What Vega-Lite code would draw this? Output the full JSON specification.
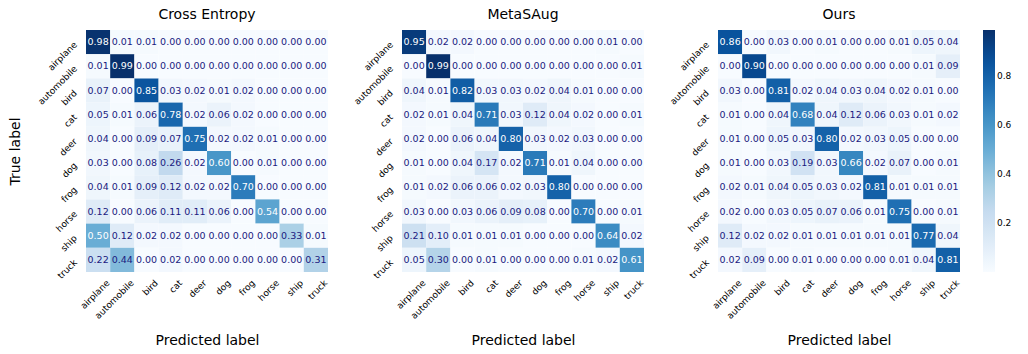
{
  "$schema": "https://vega.github.io/schema/vega-lite/v6.json",
  "padding": {"left": 8, "top": 8, "right": 5, "bottom": 5},
  "bounds": "flush",
  "spacing": 74,
  "config": {"view": {"stroke": null}, "font": "DejaVu Sans", "axis": {"labelFont": "DejaVu Sans", "titleFont": "DejaVu Sans"}},
  "datasets": {
    "ce": [
      {"t":"airplane","p":"airplane","v":0.98},{"t":"airplane","p":"automobile","v":0.01},{"t":"airplane","p":"bird","v":0.01},{"t":"airplane","p":"cat","v":0.0},{"t":"airplane","p":"deer","v":0.0},{"t":"airplane","p":"dog","v":0.0},{"t":"airplane","p":"frog","v":0.0},{"t":"airplane","p":"horse","v":0.0},{"t":"airplane","p":"ship","v":0.0},{"t":"airplane","p":"truck","v":0.0},
      {"t":"automobile","p":"airplane","v":0.01},{"t":"automobile","p":"automobile","v":0.99},{"t":"automobile","p":"bird","v":0.0},{"t":"automobile","p":"cat","v":0.0},{"t":"automobile","p":"deer","v":0.0},{"t":"automobile","p":"dog","v":0.0},{"t":"automobile","p":"frog","v":0.0},{"t":"automobile","p":"horse","v":0.0},{"t":"automobile","p":"ship","v":0.0},{"t":"automobile","p":"truck","v":0.0},
      {"t":"bird","p":"airplane","v":0.07},{"t":"bird","p":"automobile","v":0.0},{"t":"bird","p":"bird","v":0.85},{"t":"bird","p":"cat","v":0.03},{"t":"bird","p":"deer","v":0.02},{"t":"bird","p":"dog","v":0.01},{"t":"bird","p":"frog","v":0.02},{"t":"bird","p":"horse","v":0.0},{"t":"bird","p":"ship","v":0.0},{"t":"bird","p":"truck","v":0.0},
      {"t":"cat","p":"airplane","v":0.05},{"t":"cat","p":"automobile","v":0.01},{"t":"cat","p":"bird","v":0.06},{"t":"cat","p":"cat","v":0.78},{"t":"cat","p":"deer","v":0.02},{"t":"cat","p":"dog","v":0.06},{"t":"cat","p":"frog","v":0.02},{"t":"cat","p":"horse","v":0.0},{"t":"cat","p":"ship","v":0.0},{"t":"cat","p":"truck","v":0.0},
      {"t":"deer","p":"airplane","v":0.04},{"t":"deer","p":"automobile","v":0.0},{"t":"deer","p":"bird","v":0.09},{"t":"deer","p":"cat","v":0.07},{"t":"deer","p":"deer","v":0.75},{"t":"deer","p":"dog","v":0.02},{"t":"deer","p":"frog","v":0.02},{"t":"deer","p":"horse","v":0.01},{"t":"deer","p":"ship","v":0.0},{"t":"deer","p":"truck","v":0.0},
      {"t":"dog","p":"airplane","v":0.03},{"t":"dog","p":"automobile","v":0.0},{"t":"dog","p":"bird","v":0.08},{"t":"dog","p":"cat","v":0.26},{"t":"dog","p":"deer","v":0.02},{"t":"dog","p":"dog","v":0.60},{"t":"dog","p":"frog","v":0.0},{"t":"dog","p":"horse","v":0.01},{"t":"dog","p":"ship","v":0.0},{"t":"dog","p":"truck","v":0.0},
      {"t":"frog","p":"airplane","v":0.04},{"t":"frog","p":"automobile","v":0.01},{"t":"frog","p":"bird","v":0.09},{"t":"frog","p":"cat","v":0.12},{"t":"frog","p":"deer","v":0.02},{"t":"frog","p":"dog","v":0.02},{"t":"frog","p":"frog","v":0.70},{"t":"frog","p":"horse","v":0.0},{"t":"frog","p":"ship","v":0.0},{"t":"frog","p":"truck","v":0.0},
      {"t":"horse","p":"airplane","v":0.12},{"t":"horse","p":"automobile","v":0.0},{"t":"horse","p":"bird","v":0.06},{"t":"horse","p":"cat","v":0.11},{"t":"horse","p":"deer","v":0.11},{"t":"horse","p":"dog","v":0.06},{"t":"horse","p":"frog","v":0.0},{"t":"horse","p":"horse","v":0.54},{"t":"horse","p":"ship","v":0.0},{"t":"horse","p":"truck","v":0.0},
      {"t":"ship","p":"airplane","v":0.50},{"t":"ship","p":"automobile","v":0.12},{"t":"ship","p":"bird","v":0.02},{"t":"ship","p":"cat","v":0.02},{"t":"ship","p":"deer","v":0.0},{"t":"ship","p":"dog","v":0.0},{"t":"ship","p":"frog","v":0.0},{"t":"ship","p":"horse","v":0.0},{"t":"ship","p":"ship","v":0.33},{"t":"ship","p":"truck","v":0.01},
      {"t":"truck","p":"airplane","v":0.22},{"t":"truck","p":"automobile","v":0.44},{"t":"truck","p":"bird","v":0.0},{"t":"truck","p":"cat","v":0.02},{"t":"truck","p":"deer","v":0.0},{"t":"truck","p":"dog","v":0.0},{"t":"truck","p":"frog","v":0.0},{"t":"truck","p":"horse","v":0.0},{"t":"truck","p":"ship","v":0.0},{"t":"truck","p":"truck","v":0.31}
    ],
    "ms": [
      {"t":"airplane","p":"airplane","v":0.95},{"t":"airplane","p":"automobile","v":0.02},{"t":"airplane","p":"bird","v":0.02},{"t":"airplane","p":"cat","v":0.0},{"t":"airplane","p":"deer","v":0.0},{"t":"airplane","p":"dog","v":0.0},{"t":"airplane","p":"frog","v":0.0},{"t":"airplane","p":"horse","v":0.0},{"t":"airplane","p":"ship","v":0.01},{"t":"airplane","p":"truck","v":0.0},
      {"t":"automobile","p":"airplane","v":0.0},{"t":"automobile","p":"automobile","v":0.99},{"t":"automobile","p":"bird","v":0.0},{"t":"automobile","p":"cat","v":0.0},{"t":"automobile","p":"deer","v":0.0},{"t":"automobile","p":"dog","v":0.0},{"t":"automobile","p":"frog","v":0.0},{"t":"automobile","p":"horse","v":0.0},{"t":"automobile","p":"ship","v":0.0},{"t":"automobile","p":"truck","v":0.01},
      {"t":"bird","p":"airplane","v":0.04},{"t":"bird","p":"automobile","v":0.01},{"t":"bird","p":"bird","v":0.82},{"t":"bird","p":"cat","v":0.03},{"t":"bird","p":"deer","v":0.03},{"t":"bird","p":"dog","v":0.02},{"t":"bird","p":"frog","v":0.04},{"t":"bird","p":"horse","v":0.01},{"t":"bird","p":"ship","v":0.0},{"t":"bird","p":"truck","v":0.0},
      {"t":"cat","p":"airplane","v":0.02},{"t":"cat","p":"automobile","v":0.01},{"t":"cat","p":"bird","v":0.04},{"t":"cat","p":"cat","v":0.71},{"t":"cat","p":"deer","v":0.03},{"t":"cat","p":"dog","v":0.12},{"t":"cat","p":"frog","v":0.04},{"t":"cat","p":"horse","v":0.02},{"t":"cat","p":"ship","v":0.0},{"t":"cat","p":"truck","v":0.01},
      {"t":"deer","p":"airplane","v":0.02},{"t":"deer","p":"automobile","v":0.0},{"t":"deer","p":"bird","v":0.06},{"t":"deer","p":"cat","v":0.04},{"t":"deer","p":"deer","v":0.80},{"t":"deer","p":"dog","v":0.03},{"t":"deer","p":"frog","v":0.02},{"t":"deer","p":"horse","v":0.03},{"t":"deer","p":"ship","v":0.0},{"t":"deer","p":"truck","v":0.0},
      {"t":"dog","p":"airplane","v":0.01},{"t":"dog","p":"automobile","v":0.0},{"t":"dog","p":"bird","v":0.04},{"t":"dog","p":"cat","v":0.17},{"t":"dog","p":"deer","v":0.02},{"t":"dog","p":"dog","v":0.71},{"t":"dog","p":"frog","v":0.01},{"t":"dog","p":"horse","v":0.04},{"t":"dog","p":"ship","v":0.0},{"t":"dog","p":"truck","v":0.0},
      {"t":"frog","p":"airplane","v":0.01},{"t":"frog","p":"automobile","v":0.02},{"t":"frog","p":"bird","v":0.06},{"t":"frog","p":"cat","v":0.06},{"t":"frog","p":"deer","v":0.02},{"t":"frog","p":"dog","v":0.03},{"t":"frog","p":"frog","v":0.80},{"t":"frog","p":"horse","v":0.0},{"t":"frog","p":"ship","v":0.0},{"t":"frog","p":"truck","v":0.0},
      {"t":"horse","p":"airplane","v":0.03},{"t":"horse","p":"automobile","v":0.0},{"t":"horse","p":"bird","v":0.03},{"t":"horse","p":"cat","v":0.06},{"t":"horse","p":"deer","v":0.09},{"t":"horse","p":"dog","v":0.08},{"t":"horse","p":"frog","v":0.0},{"t":"horse","p":"horse","v":0.70},{"t":"horse","p":"ship","v":0.0},{"t":"horse","p":"truck","v":0.01},
      {"t":"ship","p":"airplane","v":0.21},{"t":"ship","p":"automobile","v":0.10},{"t":"ship","p":"bird","v":0.01},{"t":"ship","p":"cat","v":0.01},{"t":"ship","p":"deer","v":0.01},{"t":"ship","p":"dog","v":0.0},{"t":"ship","p":"frog","v":0.0},{"t":"ship","p":"horse","v":0.0},{"t":"ship","p":"ship","v":0.64},{"t":"ship","p":"truck","v":0.02},
      {"t":"truck","p":"airplane","v":0.05},{"t":"truck","p":"automobile","v":0.30},{"t":"truck","p":"bird","v":0.0},{"t":"truck","p":"cat","v":0.01},{"t":"truck","p":"deer","v":0.0},{"t":"truck","p":"dog","v":0.0},{"t":"truck","p":"frog","v":0.0},{"t":"truck","p":"horse","v":0.01},{"t":"truck","p":"ship","v":0.02},{"t":"truck","p":"truck","v":0.61}
    ],
    "ours": [
      {"t":"airplane","p":"airplane","v":0.86},{"t":"airplane","p":"automobile","v":0.0},{"t":"airplane","p":"bird","v":0.03},{"t":"airplane","p":"cat","v":0.0},{"t":"airplane","p":"deer","v":0.01},{"t":"airplane","p":"dog","v":0.0},{"t":"airplane","p":"frog","v":0.0},{"t":"airplane","p":"horse","v":0.01},{"t":"airplane","p":"ship","v":0.05},{"t":"airplane","p":"truck","v":0.04},
      {"t":"automobile","p":"airplane","v":0.0},{"t":"automobile","p":"automobile","v":0.90},{"t":"automobile","p":"bird","v":0.0},{"t":"automobile","p":"cat","v":0.0},{"t":"automobile","p":"deer","v":0.0},{"t":"automobile","p":"dog","v":0.0},{"t":"automobile","p":"frog","v":0.0},{"t":"automobile","p":"horse","v":0.0},{"t":"automobile","p":"ship","v":0.01},{"t":"automobile","p":"truck","v":0.09},
      {"t":"bird","p":"airplane","v":0.03},{"t":"bird","p":"automobile","v":0.0},{"t":"bird","p":"bird","v":0.81},{"t":"bird","p":"cat","v":0.02},{"t":"bird","p":"deer","v":0.04},{"t":"bird","p":"dog","v":0.03},{"t":"bird","p":"frog","v":0.04},{"t":"bird","p":"horse","v":0.02},{"t":"bird","p":"ship","v":0.01},{"t":"bird","p":"truck","v":0.0},
      {"t":"cat","p":"airplane","v":0.01},{"t":"cat","p":"automobile","v":0.0},{"t":"cat","p":"bird","v":0.04},{"t":"cat","p":"cat","v":0.68},{"t":"cat","p":"deer","v":0.04},{"t":"cat","p":"dog","v":0.12},{"t":"cat","p":"frog","v":0.06},{"t":"cat","p":"horse","v":0.03},{"t":"cat","p":"ship","v":0.01},{"t":"cat","p":"truck","v":0.02},
      {"t":"deer","p":"airplane","v":0.01},{"t":"deer","p":"automobile","v":0.0},{"t":"deer","p":"bird","v":0.05},{"t":"deer","p":"cat","v":0.03},{"t":"deer","p":"deer","v":0.80},{"t":"deer","p":"dog","v":0.02},{"t":"deer","p":"frog","v":0.03},{"t":"deer","p":"horse","v":0.05},{"t":"deer","p":"ship","v":0.0},{"t":"deer","p":"truck","v":0.0},
      {"t":"dog","p":"airplane","v":0.01},{"t":"dog","p":"automobile","v":0.0},{"t":"dog","p":"bird","v":0.03},{"t":"dog","p":"cat","v":0.19},{"t":"dog","p":"deer","v":0.03},{"t":"dog","p":"dog","v":0.66},{"t":"dog","p":"frog","v":0.02},{"t":"dog","p":"horse","v":0.07},{"t":"dog","p":"ship","v":0.0},{"t":"dog","p":"truck","v":0.01},
      {"t":"frog","p":"airplane","v":0.02},{"t":"frog","p":"automobile","v":0.01},{"t":"frog","p":"bird","v":0.04},{"t":"frog","p":"cat","v":0.05},{"t":"frog","p":"deer","v":0.03},{"t":"frog","p":"dog","v":0.02},{"t":"frog","p":"frog","v":0.81},{"t":"frog","p":"horse","v":0.01},{"t":"frog","p":"ship","v":0.01},{"t":"frog","p":"truck","v":0.01},
      {"t":"horse","p":"airplane","v":0.02},{"t":"horse","p":"automobile","v":0.0},{"t":"horse","p":"bird","v":0.03},{"t":"horse","p":"cat","v":0.05},{"t":"horse","p":"deer","v":0.07},{"t":"horse","p":"dog","v":0.06},{"t":"horse","p":"frog","v":0.01},{"t":"horse","p":"horse","v":0.75},{"t":"horse","p":"ship","v":0.0},{"t":"horse","p":"truck","v":0.01},
      {"t":"ship","p":"airplane","v":0.12},{"t":"ship","p":"automobile","v":0.02},{"t":"ship","p":"bird","v":0.02},{"t":"ship","p":"cat","v":0.01},{"t":"ship","p":"deer","v":0.01},{"t":"ship","p":"dog","v":0.01},{"t":"ship","p":"frog","v":0.01},{"t":"ship","p":"horse","v":0.01},{"t":"ship","p":"ship","v":0.77},{"t":"ship","p":"truck","v":0.04},
      {"t":"truck","p":"airplane","v":0.02},{"t":"truck","p":"automobile","v":0.09},{"t":"truck","p":"bird","v":0.0},{"t":"truck","p":"cat","v":0.01},{"t":"truck","p":"deer","v":0.0},{"t":"truck","p":"dog","v":0.0},{"t":"truck","p":"frog","v":0.0},{"t":"truck","p":"horse","v":0.01},{"t":"truck","p":"ship","v":0.04},{"t":"truck","p":"truck","v":0.81}
    ]
  },
  "resolve": {"scale": {"color": "shared"}, "legend": {"color": "shared"}},
  "hconcat": [
    {
      "width": 242, "height": 242,
      "data": {"name": "ce"},
      "title": {"text": "Cross Entropy", "fontSize": 14, "fontWeight": "normal", "font": "DejaVu Sans", "anchor": "middle", "offset": 8},
      "encoding": {
        "x": {"field": "p", "type": "nominal", "sort": ["airplane","automobile","bird","cat","deer","dog","frog","horse","ship","truck"], "scale": {"paddingInner": 0, "paddingOuter": 0}, "axis": {"title": "Predicted label", "titleFontSize": 14, "titleFontWeight": "normal", "titleY": 68, "titleBaseline": "middle", "labelAngle": -45, "labelAlign": "right", "labelBaseline": "middle", "labelFontSize": 9, "labelOffset": 10, "labelPadding": 9, "ticks": false, "domain": false, "labelColor": "black"}},
        "y": {"field": "t", "type": "nominal", "sort": ["airplane","automobile","bird","cat","deer","dog","frog","horse","ship","truck"], "scale": {"paddingInner": 0, "paddingOuter": 0}, "axis": {"title": "True label", "titleFontSize": 14, "titleFontWeight": "normal", "titleX": -71, "titleBaseline": "middle", "labelAngle": -45, "labelAlign": "right", "labelBaseline": "middle", "labelFontSize": 9, "labelPadding": 11, "labelOffset": 1, "ticks": false, "domain": false, "labelColor": "black"}}
      },
      "layer": [
        {"mark": {"type": "rect"}, "encoding": {"color": {"field": "v", "type": "quantitative", "scale": {"domain": [0, 0.99], "range": ["#f7fbff","#deebf7","#c6dbef","#9ecae1","#6baed6","#4292c6","#2171b5","#08519c","#08306b"], "interpolate": "rgb"}, "legend": {"title": null, "values": [0.2, 0.4, 0.6, 0.8], "gradientLength": 242, "gradientThickness": 12, "labelFontSize": 9, "labelFont": "DejaVu Sans", "labelColor": "black", "offset": 22, "gradientStrokeWidth": 0}}}},
        {"mark": {"type": "text", "fontSize": 9.5, "font": "DejaVu Sans"}, "encoding": {"text": {"field": "v", "type": "quantitative", "format": ".2f"}, "color": {"condition": {"test": "datum.v >= 0.47", "value": "white"}, "value": "#1a1a80"}}}
      ]
    },
    {
      "width": 242, "height": 242,
      "data": {"name": "ms"},
      "title": {"text": "MetaSAug", "fontSize": 14, "fontWeight": "normal", "font": "DejaVu Sans", "anchor": "middle", "offset": 8},
      "encoding": {
        "x": {"field": "p", "type": "nominal", "sort": ["airplane","automobile","bird","cat","deer","dog","frog","horse","ship","truck"], "scale": {"paddingInner": 0, "paddingOuter": 0}, "axis": {"title": "Predicted label", "titleFontSize": 14, "titleFontWeight": "normal", "titleY": 68, "titleBaseline": "middle", "labelAngle": -45, "labelAlign": "right", "labelBaseline": "middle", "labelFontSize": 9, "labelOffset": 10, "labelPadding": 9, "ticks": false, "domain": false, "labelColor": "black"}},
        "y": {"field": "t", "type": "nominal", "sort": ["airplane","automobile","bird","cat","deer","dog","frog","horse","ship","truck"], "scale": {"paddingInner": 0, "paddingOuter": 0}, "axis": {"title": null, "labelAngle": -45, "labelAlign": "right", "labelBaseline": "middle", "labelFontSize": 9, "labelPadding": 11, "labelOffset": 1, "ticks": false, "domain": false, "labelColor": "black"}}
      },
      "layer": [
        {"mark": {"type": "rect"}, "encoding": {"color": {"field": "v", "type": "quantitative"}}},
        {"mark": {"type": "text", "fontSize": 9.5, "font": "DejaVu Sans"}, "encoding": {"text": {"field": "v", "type": "quantitative", "format": ".2f"}, "color": {"condition": {"test": "datum.v >= 0.47", "value": "white"}, "value": "#1a1a80"}}}
      ]
    },
    {
      "width": 242, "height": 242,
      "data": {"name": "ours"},
      "title": {"text": "Ours", "fontSize": 14, "fontWeight": "normal", "font": "DejaVu Sans", "anchor": "middle", "offset": 8},
      "encoding": {
        "x": {"field": "p", "type": "nominal", "sort": ["airplane","automobile","bird","cat","deer","dog","frog","horse","ship","truck"], "scale": {"paddingInner": 0, "paddingOuter": 0}, "axis": {"title": "Predicted label", "titleFontSize": 14, "titleFontWeight": "normal", "titleY": 68, "titleBaseline": "middle", "labelAngle": -45, "labelAlign": "right", "labelBaseline": "middle", "labelFontSize": 9, "labelOffset": 10, "labelPadding": 9, "ticks": false, "domain": false, "labelColor": "black"}},
        "y": {"field": "t", "type": "nominal", "sort": ["airplane","automobile","bird","cat","deer","dog","frog","horse","ship","truck"], "scale": {"paddingInner": 0, "paddingOuter": 0}, "axis": {"title": null, "labelAngle": -45, "labelAlign": "right", "labelBaseline": "middle", "labelFontSize": 9, "labelPadding": 11, "labelOffset": 1, "ticks": false, "domain": false, "labelColor": "black"}}
      },
      "layer": [
        {"mark": {"type": "rect"}, "encoding": {"color": {"field": "v", "type": "quantitative"}}},
        {"mark": {"type": "text", "fontSize": 9.5, "font": "DejaVu Sans"}, "encoding": {"text": {"field": "v", "type": "quantitative", "format": ".2f"}, "color": {"condition": {"test": "datum.v >= 0.47", "value": "white"}, "value": "#1a1a80"}}}
      ]
    }
  ]
}
